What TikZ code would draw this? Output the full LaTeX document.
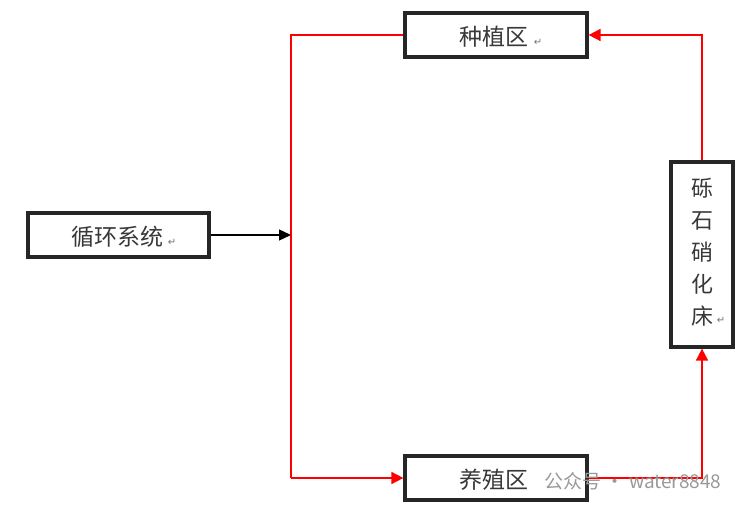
\documentclass[tikz,border=0pt]{standalone}
\usepackage{fontspec}
\newfontfamily\cjk{Noto Sans CJK SC}
\newfontfamily\djvu{DejaVu Sans}
\usetikzlibrary{arrows.meta}
\tikzset{
  box/.style={draw=black!85, line width=3.2pt, fill=white, inner sep=0pt},
  lbl/.style={font=\cjk\fontsize{23}{26}\selectfont, text=black!78},
  redline/.style={draw=red, line width=1.6pt},
  redarr/.style={redline, -{Triangle[length=12pt,width=12pt]}},
  blkarr/.style={draw=black, line width=1.4pt, -{Triangle[length=12pt,width=11pt]}},
  ret/.style={font=\djvu\fontsize{10}{11}\selectfont, text=black!55},
}
\begin{document}
\begin{tikzpicture}[x=1pt,y=-1pt]
\useasboundingbox (0,0) rectangle (750,510);
\fill[white] (0,0) rectangle (750,510);
% boxes
\node[box, minimum width=182pt, minimum height=44pt] (zz) at (496,35) {};
\node[lbl] at (494,37) {种植区};
\node[ret] at (538,42) {↵};
\node[box, minimum width=181pt, minimum height=44pt] (xh) at (118.5,235) {};
\node[lbl] at (117,237) {循环系统};
\node[ret] at (172,242) {↵};
\node[box, minimum width=182pt, minimum height=44pt] (yz) at (496,478) {};
\node[lbl] at (494,480) {养殖区};
\node[box, minimum width=62pt, minimum height=185pt] (lsh) at (702,254.5) {};
\node[lbl, align=center, font=\cjk\fontsize{22}{32}\selectfont] at (702,252) {砾\\石\\硝\\化\\床};
\node[ret] at (721,320) {↵};
% junction points
\coordinate (j) at (291,235);
\coordinate (jt) at (291,35);
\coordinate (jb) at (291,478);
\coordinate (rt) at (702,35);
\coordinate (rb) at (702,478);
% connectors
\draw[redline] (zz.west) -- (jt) -- (jb);
\draw[redarr] (jb) -- (yz.west);
\draw[blkarr] (xh.east) -- (j);
\draw[redarr] (yz.east) -- (rb) -- (lsh.south);
\draw[redarr] (lsh.north) -- (rt) -- (zz.east);
% watermark
\node[font=\cjk\fontsize{19}{21}\selectfont, text=black!40, anchor=west] at (541,481) {公众号 · water8848};
\end{tikzpicture}
\end{document}
